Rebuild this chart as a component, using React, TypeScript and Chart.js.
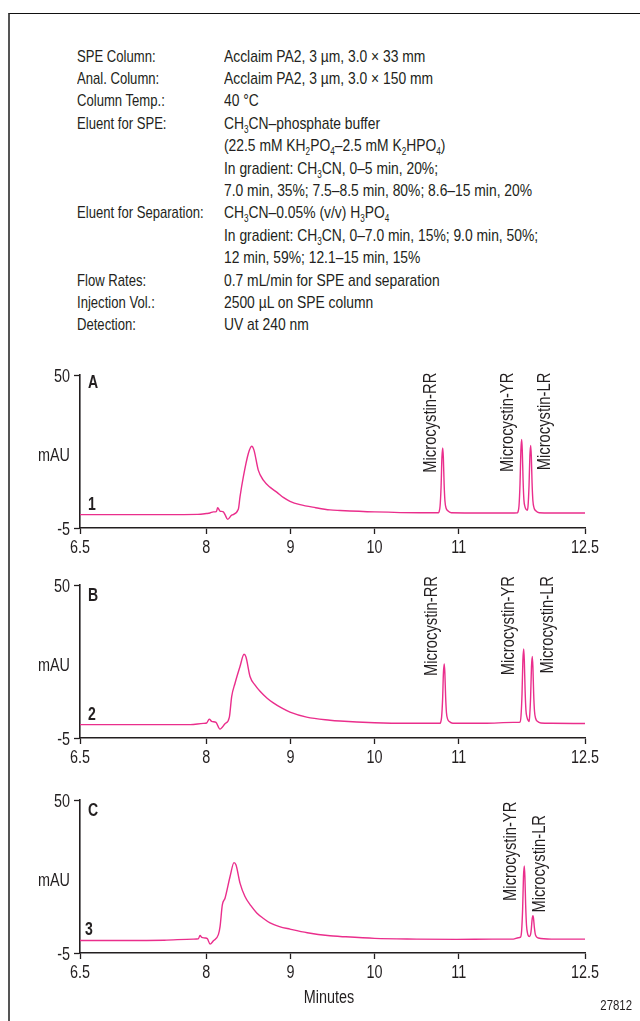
import React, { useEffect, useRef } from "react";
import { Chart, registerables } from "chart.js";

Chart.register(...registerables);

const FONT = '"Liberation Sans", Arial, Helvetica, sans-serif';
const TEXT = "#231f20";
const TRACE = "#ea2e8c";
const SX = 0.8; // horizontal condensing of the sans face

const xTickValues = [6.5, 8, 9, 10, 11, 12.5];
const yTickValues = [-5, 50];
const xMin = 6.5;
const xMax = 12.5;
const yMin = -5;
const yMax = 50;

// Chromatogram A
const timeA = [6.5, 7.0, 7.5, 7.9, 8.0, 8.045, 8.084, 8.12, 8.136, 8.163, 8.203, 8.223, 8.255, 8.302, 8.381, 8.401, 8.44, 8.5, 8.54, 8.567, 8.618, 8.678, 8.76, 8.837, 8.92, 8.995, 9.114, 9.3, 9.47, 9.59, 10.0, 10.54, 10.76,
  10.765, 10.778, 10.79, 10.8, 10.81, 10.817, 10.826, 10.836, 10.85, 10.87, 10.91,
  11.3, 11.6, 11.7,
  11.703, 11.716, 11.728, 11.738, 11.748, 11.755, 11.764, 11.774, 11.788, 11.8, 11.815,
  11.823, 11.835, 11.845, 11.855, 11.862, 11.871, 11.881, 11.895, 11.915, 11.955, 12.1, 12.5];
const signalA = [-0.2, -0.2, -0.2, -0.1, 0.2, 0.4, 0.8, 0.9, 2.3, 1.1, 0.8, -0.2, -1.9, -0.4, 1.7, 6.2, 13.3, 21.8, 24.4, 23.0, 15.8, 12.2, 9.6, 7.9, 5.9, 4.6, 3.4, 2.3, 1.5, 1.3, 0.8, 0.5, 0.5,
  0.7, 2.8, 9.8, 20.3, 23.8, 20.3, 11.0, 4.7, 2.1, 1.2, 0.5,
  0.4, 0.4, 0.5,
  0.7, 3.0, 11.0, 22.8, 26.8, 22.8, 12.5, 5.2, 2.5, 1.7, 1.4,
  2.8, 10.2, 20.9, 24.7, 21.0, 11.3, 4.8, 2.2, 1.2, 0.5, 0.4, 0.4];

// Chromatogram B
const timeB = [6.5, 7.0, 7.5, 7.81, 7.965, 8.005, 8.036, 8.064, 8.116, 8.163, 8.223, 8.274, 8.302, 8.342, 8.401, 8.449, 8.472, 8.52, 8.58, 8.639, 8.72, 8.797, 8.9, 8.995, 9.193, 9.47, 9.589, 10.0, 10.4, 10.78,
  10.783, 10.796, 10.808, 10.818, 10.828, 10.835, 10.844, 10.854, 10.868, 10.888, 10.93,
  11.3, 11.648, 11.7,
  11.727, 11.74, 11.752, 11.762, 11.772, 11.779, 11.788, 11.798, 11.812, 11.825, 11.835,
  11.842, 11.854, 11.864, 11.874, 11.881, 11.89, 11.9, 11.914, 11.934, 11.975, 12.1, 12.5];
const signalB = [-0.2, -0.2, -0.2, -0.2, 0.25, 0.4, 1.8, 1.0, 0.6, -1.8, 0.1, 2.4, 9.9, 14.7, 20.7, 25.1, 24.1, 17.1, 14.0, 11.8, 9.4, 7.6, 5.7, 4.3, 2.5, 1.4, 1.1, 0.5, 0.3, 0.3,
  0.5, 2.4, 8.8, 18.4, 21.6, 18.4, 9.9, 4.1, 1.8, 0.9, 0.3,
  0.3, 0.6, 0.6,
  0.7, 3.1, 11.0, 23.0, 27.0, 23.0, 12.4, 5.1, 2.3, 1.3, 0.95,
  2.6, 9.9, 20.5, 24.3, 20.6, 11.0, 4.6, 2.0, 1.0, 0.4, 0.3, 0.2];

// Chromatogram C
const timeC = [6.5, 7.0, 7.5, 7.846, 7.906, 7.926, 7.946, 7.985, 8.014, 8.045, 8.085, 8.144, 8.164, 8.191, 8.223, 8.283, 8.33, 8.354, 8.401, 8.46, 8.53, 8.6, 8.68, 8.758, 8.87, 8.995, 9.2, 9.47, 9.589, 10.0, 10.5, 10.975, 11.4, 11.648, 11.707,
  11.734, 11.747, 11.759, 11.769, 11.779, 11.786, 11.795, 11.805, 11.818, 11.83, 11.838,
  11.852, 11.862, 11.872, 11.882, 11.889, 11.898, 11.908, 11.922, 11.945, 12.1, 12.5];
const signalC = [-0.5, -0.5, -0.4, 0.0, 0.1, 1.3, 0.6, 0.4, 0.1, -1.8, -0.6, 1.6, 4.5, 12.3, 14.7, 22.5, 27.5, 26.6, 20.1, 15.3, 12.0, 9.4, 7.4, 5.8, 4.5, 3.6, 2.3, 1.2, 0.95, 0.25, 0.0, -0.1, 0.0, 0.0, 0.5,
  0.7, 3.0, 10.8, 22.4, 26.3, 22.4, 12.2, 5.0, 2.0, 1.1, 0.95,
  1.5, 3.6, 7.2, 8.4, 7.3, 4.3, 2.0, 0.9, 0.4, 0.0, 0.0];

const peakNamesA = ["Microcystin-RR", "Microcystin-YR", "Microcystin-LR"];
const peakTimesA = [10.81, 11.748, 11.855];
const peakNamesB = ["Microcystin-RR", "Microcystin-YR", "Microcystin-LR"];
const peakTimesB = [10.828, 11.772, 11.874];
const peakNamesC = ["Microcystin-YR", "Microcystin-LR"];
const peakTimesC = [11.779, 11.882];

const conditionLabels = [
  "SPE Column:", "Anal. Column:", "Column Temp.:", "Eluent for SPE:", "", "", "",
  "Eluent for Separation:", "", "", "Flow Rates:", "Injection Vol.:", "Detection:",
];
const conditionValues = [
  "Acclaim PA2, 3 µm, 3.0 × 33 mm",
  "Acclaim PA2, 3 µm, 3.0 × 150 mm",
  "40 °C",
  "CH_3CN–phosphate buffer",
  "(22.5 mM KH_2PO_4–2.5 mM K_2HPO_4)",
  "In gradient: CH_3CN, 0–5 min, 20%;",
  "7.0 min, 35%; 7.5–8.5 min, 80%; 8.6–15 min, 20%",
  "CH_3CN–0.05% (v/v) H_3PO_4",
  "In gradient: CH_3CN, 0–7.0 min, 15%; 9.0 min, 50%;",
  "12 min, 59%; 12.1–15 min, 15%",
  "0.7 mL/min for SPE and separation",
  "2500 µL on SPE column",
  "UV at 240 nm",
];

type PanelCfg = {
  times: number[];
  values: number[];
  names: string[];
  peakTimes: number[];
  letter: string;
  num: string;
  top: number;
  height: number;
  padTop: number;
  axisH: number;
  labelDx: number[];
  labelTopDy: number[];
  letterDy: number;
  numDx: number;
  footer: boolean;
};

const panels: PanelCfg[] = [
  { times: timeA, values: signalA, names: peakNamesA, peakTimes: peakTimesA, letter: "A", num: "1",
    top: 340, height: 220, padTop: 35, axisH: 32, labelDx: [-12, -13.7, 14], labelTopDy: [-2.3, -2.3, -2.3], letterDy: 13, numDx: 8, footer: false },
  { times: timeB, values: signalB, names: peakNamesB, peakTimes: peakTimesB, letter: "B", num: "2",
    top: 550, height: 220, padTop: 35, axisH: 32, labelDx: [-12.5, -14.7, 16], labelTopDy: [-9, -9, -9], letterDy: 15.5, numDx: 8, footer: false },
  { times: timeC, values: signalC, names: peakNamesC, peakTimes: peakTimesC, letter: "C", num: "3",
    top: 770, height: 251, padTop: 30, axisH: 68, labelDx: [-13, 7.5], labelTopDy: [1.7, 15], letterDy: 16, numDx: 5, footer: true },
];

function txt(
  ctx: CanvasRenderingContext2D,
  s: string,
  x: number,
  y: number,
  size: number,
  align: CanvasTextAlign,
  baseline: CanvasTextBaseline,
  bold = false,
  rot = 0,
  sx = SX
) {
  ctx.save();
  ctx.translate(x, y);
  if (rot) ctx.rotate(rot);
  ctx.scale(sx, 1);
  ctx.font = `${bold ? "bold " : ""}${size}px ${FONT}`;
  ctx.textAlign = align;
  ctx.textBaseline = baseline;
  ctx.fillText(s, 0, 0);
  ctx.restore();
}

function renderSub(s: string) {
  const parts = s.split(/_(\d)/);
  return parts.map((p, i) =>
    i % 2 === 1 ? (
      <span key={i} style={{ fontSize: 10, position: "relative", top: 4, lineHeight: 0 }}>{p}</span>
    ) : (
      <React.Fragment key={i}>{p}</React.Fragment>
    )
  );
}

function Panel({ cfg }: { cfg: PanelCfg }) {
  const ref = useRef<HTMLCanvasElement>(null);
  useEffect(() => {
    const annot = {
      id: "annot",
      afterDraw(chart: any) {
        const ctx = chart.ctx as CanvasRenderingContext2D;
        const ca = chart.chartArea;
        const xs = chart.scales.x;
        const ys = chart.scales.y;
        ctx.save();
        ctx.fillStyle = TEXT;
        xTickValues.forEach((v) => {
          txt(ctx, String(v), xs.getPixelForValue(v), ca.bottom + 25, 18, "center", "alphabetic");
        });
        yTickValues.forEach((v) => {
          txt(ctx, String(v), ca.left - 10, ys.getPixelForValue(v) + 6.5, 18, "right", "alphabetic");
        });
        txt(ctx, cfg.letter, ca.left + 8, ca.top + cfg.letterDy, 18, "left", "alphabetic", true, 0, 0.78);
        txt(ctx, cfg.num, ca.left + cfg.numDx, ca.bottom - 18, 18, "left", "alphabetic", true, 0, 0.78);
        txt(ctx, "mAU", ca.left - 10, (ca.top + ca.bottom) / 2 + 9, 18, "right", "alphabetic");
        cfg.names.forEach((n, i) => {
          const px = xs.getPixelForValue(cfg.peakTimes[i]) + cfg.labelDx[i];
          const py = ca.top + cfg.labelTopDy[i];
          txt(ctx, n, px, py, 18, "right", "middle", false, -Math.PI / 2, 0.82);
        });
        if (cfg.footer) {
          txt(ctx, "Minutes", 329, ca.bottom + 50, 18, "center", "alphabetic");
          txt(ctx, "27812", 632, ca.bottom + 57, 15, "right", "alphabetic", false, 0, 0.76);
        }
        ctx.restore();
      },
    };
    const axisCommon = {
      type: "linear",
      ticks: { display: false },
      grid: { drawOnChartArea: false, drawTicks: true, tickLength: 6, tickColor: TEXT, tickWidth: 1.3, color: TEXT },
      border: { display: true, color: TEXT, width: 1.6 },
    };
    const chart = new Chart(ref.current!, {
      type: "line",
      data: {
        datasets: [
          {
            data: cfg.times.map((t, i) => ({ x: t, y: cfg.values[i] })),
            borderColor: TRACE,
            borderWidth: 1.4,
            pointRadius: 0,
            cubicInterpolationMode: "monotone",
            fill: false,
          } as any,
        ],
      },
      options: {
        animation: false,
        responsive: false,
        events: [],
        layout: { padding: { top: cfg.padTop, right: 55, left: 0, bottom: 0 } },
        plugins: { legend: { display: false }, tooltip: { enabled: false }, title: { display: false } },
        scales: {
          x: {
            ...axisCommon,
            min: xMin,
            max: xMax,
            afterBuildTicks: (s: any) => {
              s.ticks = xTickValues.map((v) => ({ value: v }));
            },
            afterFit: (s: any) => {
              s.height = cfg.axisH;
            },
          },
          y: {
            ...axisCommon,
            min: yMin,
            max: yMax,
            afterBuildTicks: (s: any) => {
              s.ticks = yTickValues.map((v) => ({ value: v }));
            },
            afterFit: (s: any) => {
              s.width = 80;
            },
          },
        },
      } as any,
      plugins: [annot],
    });
    return () => chart.destroy();
  }, [cfg]);
  return (
    <canvas
      ref={ref}
      width={640}
      height={cfg.height}
      style={{ position: "absolute", left: 0, top: cfg.top, width: 640, height: cfg.height }}
    />
  );
}

export default function App() {
  return (
    <div
      style={{
        position: "absolute",
        left: 0,
        top: 0,
        width: 640,
        height: 1021,
        overflow: "hidden",
        background: "#fff",
        fontFamily: FONT,
        color: TEXT,
      }}
    >
      <div
        style={{
          position: "absolute",
          left: 8,
          top: 13,
          width: 800,
          height: 1100,
          borderTop: "1.5px solid #111",
          borderLeft: "2px solid #555",
        }}
      />
      {conditionLabels.map((lab, i) => (
        <div
          key={i}
          style={{
            position: "absolute",
            top: 45.5 + i * 22.4,
            left: 0,
            width: 640,
            height: 22.4,
            lineHeight: "22.4px",
            fontSize: 17,
            whiteSpace: "nowrap",
          }}
        >
          <span style={{ position: "absolute", left: 77, transform: "scaleX(0.77)", transformOrigin: "0 0" }}>{lab}</span>
          <span style={{ position: "absolute", left: 224, transform: "scaleX(0.815)", transformOrigin: "0 0" }}>
            {renderSub(conditionValues[i])}
          </span>
        </div>
      ))}
      {panels.map((p, i) => (
        <Panel key={i} cfg={p} />
      ))}
    </div>
  );
}
